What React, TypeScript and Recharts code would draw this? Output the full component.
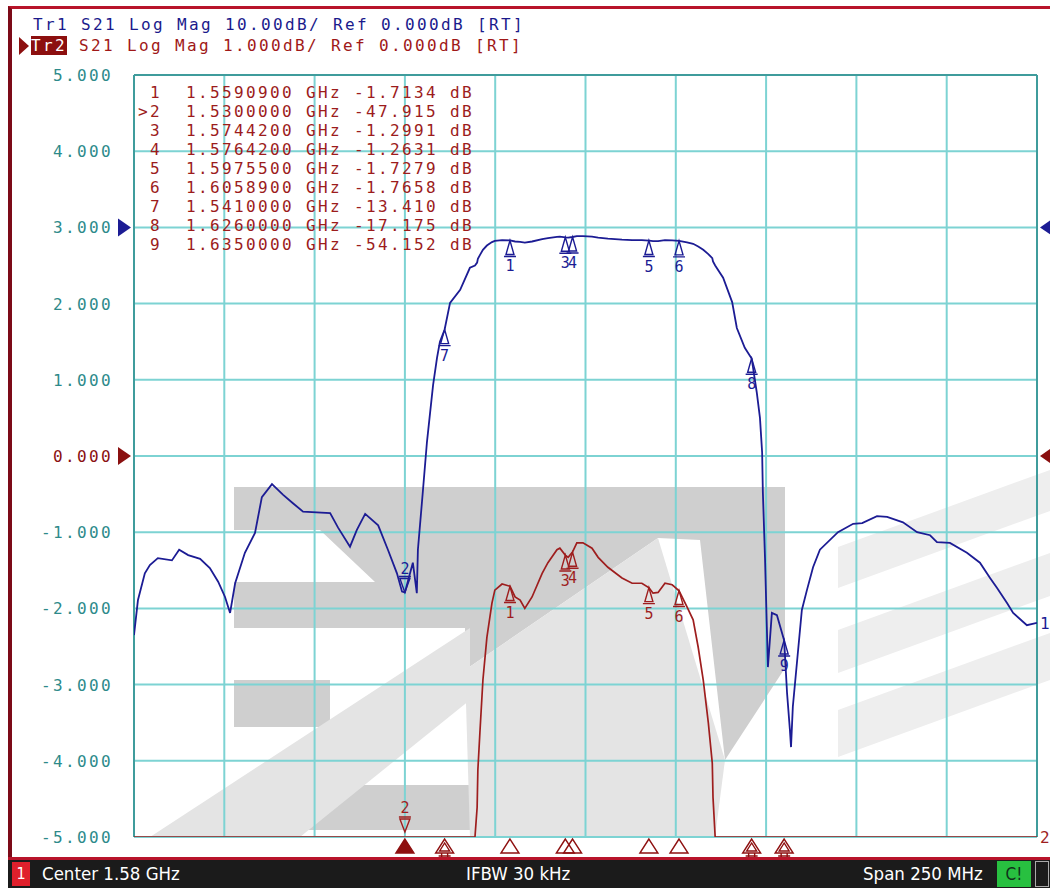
import React from 'react';
import { LineChart, Line, XAxis, YAxis, CartesianGrid, ReferenceDot, ReferenceLine } from 'recharts';

// ---- Data ----
const FREQ_MHZ = [
  1455.0, 1456.1, 1458.0, 1459.4, 1461.6, 1465.5, 1467.5, 1470.0, 1473.3, 1476.0,
  1478.3, 1480.2, 1481.6, 1483.0, 1485.7, 1488.5, 1490.4, 1493.2, 1496.3, 1499.0,
  1501.8, 1509.3, 1511.5, 1514.8, 1516.7, 1519.0, 1522.6, 1525.3, 1527.8, 1529.2,
  1530.0, 1530.9, 1532.2, 1533.3, 1533.6, 1535.0, 1536.1, 1537.0, 1537.8, 1538.9,
  1539.7, 1541.0, 1542.5, 1545.3, 1548.0, 1549.4, 1550.0, 1550.2, 1550.8, 1551.6,
  1552.7, 1554.1, 1554.9, 1556.9, 1559.1, 1560.5, 1561.9, 1563.2, 1565.2, 1568.0,
  1569.6, 1572.1, 1572.9, 1574.4, 1575.2, 1576.4, 1577.6, 1579.3, 1581.8, 1583.5,
  1586.2, 1590.1, 1592.9, 1595.6, 1597.6, 1598.7, 1600.1, 1602.0, 1604.0, 1605.9,
  1608.1, 1609.8, 1611.2, 1612.6, 1614.0, 1615.1, 1615.3, 1615.9, 1618.1, 1620.6,
  1621.9, 1624.1, 1626.0, 1627.4, 1628.3, 1628.9, 1629.1, 1629.7, 1630.2, 1630.5,
  1631.6, 1633.0, 1635.0, 1635.8, 1636.6, 1636.9, 1637.4, 1638.6, 1639.9, 1641.3,
  1643.0, 1644.9, 1649.9, 1654.1, 1656.6, 1660.7, 1663.5, 1667.9, 1671.8, 1675.4,
  1677.3, 1680.9, 1685.6, 1689.2, 1692.0, 1693.9, 1696.7, 1698.4, 1702.2, 1705.0,
];
const S21_DB = [
  -53.5, -48.9, -45.4, -44.3, -43.4, -43.7, -42.3, -43.0, -43.5, -44.7,
  -46.5, -48.5, -50.6, -46.7, -42.7, -40.1, -35.4, -33.7, -35.1, -36.2,
  -37.3, -37.5, -39.4, -41.9, -39.7, -37.6, -39.1, -42.3, -45.4, -47.8,
  -47.9, -46.3, -44.0, -48.0, -42.3, -34.5, -28.2, -24.2, -20.7, -17.1,
  -15.0, -13.4, -9.9, -8.2, -5.3, -5.0, -4.61, -4.12, -3.60, -2.94,
  -2.38, -1.93, -1.76, -1.68, -1.71, -1.85, -1.89, -2.00, -1.85, -1.54,
  -1.40, -1.23, -1.21, -1.30, -1.33, -1.26, -1.14, -1.14, -1.21, -1.33,
  -1.46, -1.60, -1.67, -1.67, -1.73, -1.80, -1.79, -1.67, -1.69, -1.77,
  -1.98, -2.15, -2.51, -2.94, -3.50, -4.03, -4.48, -5.0, -6.6, -9.8,
  -13.2, -15.8, -17.2, -21.6, -25.0, -29.5, -34.7, -43.4, -52.4, -57.7,
  -50.6, -50.9, -54.2, -61.1, -66.0, -68.2, -62.9, -56.8, -50.2, -47.6,
  -44.6, -42.3, -40.0, -38.9, -38.8, -37.9, -38.0, -38.7, -40.0, -40.4,
  -41.3, -41.4, -42.7, -44.0, -46.0, -47.3, -49.3, -50.6, -52.2, -51.9,
];

const Y_TICKS = [5, 4, 3, 2, 1, 0, -1, -2, -3, -4, -5];
const X_TICKS = [1455, 1480, 1505, 1530, 1555, 1580, 1605, 1630, 1655, 1680, 1705];

const MARKER_NUM = [1, 2, 3, 4, 5, 6, 7, 8, 9];
const MARKER_FREQ_GHZ = [1.55909, 1.53, 1.57442, 1.57642, 1.59755, 1.60589, 1.541, 1.626, 1.635];
const MARKER_DB = [-1.7134, -47.915, -1.2991, -1.2631, -1.7279, -1.7658, -13.41, -17.175, -54.152];
const ACTIVE_MARKER = 2;

// trace scale settings (dB per division, reference position in divisions)
const TR1_SCALE = 10;
const TR1_REF_POS = 3;
const TR2_SCALE = 1;
const TR2_REF_POS = 0;

const HEADER_TR1 = 'Tr1 S21 Log Mag 10.00dB/ Ref 0.000dB [RT]';
const HEADER_TR2_NAME = 'Tr2';
const HEADER_TR2 = ' S21 Log Mag 1.000dB/ Ref 0.000dB [RT]';
const STATUS_CH = '1';
const STATUS_CENTER = 'Center 1.58 GHz';
const STATUS_IFBW = 'IFBW 30 kHz';
const STATUS_SPAN = 'Span 250 MHz';

// ---- Styles ----
const BLUE = '#1c1c94';
const RED = '#9e1e1e';
const GRID = '#7dd3d3';
const BORDER = '#3f9c9c';
const TICK = '#2d8a8a';
const MONO = '"DejaVu Sans Mono", monospace';
const SPACING = '2.37px';

const toTr1 = (db: number) => TR1_REF_POS + db / TR1_SCALE;
const toTr2 = (db: number) => Math.max(-5, Math.min(5, TR2_REF_POS + db / TR2_SCALE));

const data = FREQ_MHZ.map((f, i) => ({ f, tr1: toTr1(S21_DB[i]), tr2: toTr2(S21_DB[i]) }));

const fmtRow = (i: number) => {
  const n = MARKER_NUM[i];
  const pre = (n === ACTIVE_MARKER ? '>' : ' ') + String(n);
  return `${pre}  ${MARKER_FREQ_GHZ[i].toFixed(7)} GHz ${MARKER_DB[i].toPrecision(5)} dB`;
};

const txt = (color: string): React.CSSProperties => ({
  fontFamily: MONO,
  fontSize: 16,
  letterSpacing: SPACING,
  color,
  whiteSpace: 'pre',
  lineHeight: '19px',
});

const markerUp = (color: string, label: string) => (p: any) => {
  const { cx, cy } = p;
  return (
    <g>
      <path d={`M${cx},${cy} L${cx - 4},${cy + 14} L${cx + 4},${cy + 14} Z M${cx - 6},${cy + 16} L${cx + 6},${cy + 16}`} fill="none" stroke={color} strokeWidth={1.4} />
      <text x={cx} y={cy + 31} textAnchor="middle" fill={color} fontFamily={MONO} fontSize={15}>{label}</text>
    </g>
  );
};
const markerDown = (color: string, label: string) => (p: any) => {
  const { cx, cy } = p;
  return (
    <g>
      <path d={`M${cx},${cy} L${cx - 5},${cy - 14} L${cx + 5},${cy - 14} Z M${cx - 6},${cy - 16} L${cx + 6},${cy - 16}`} fill="none" stroke={color} strokeWidth={1.4} />
      <text x={cx} y={cy - 19} textAnchor="middle" fill={color} fontFamily={MONO} fontSize={15}>{label}</text>
    </g>
  );
};
const axisTri = (filled: boolean, stacked: boolean) => (p: any) => {
  const { cx, cy } = p;
  const c = '#8e1010';
  return (
    <g>
      <path d={`M${cx},${cy + 2} L${cx - 9},${cy + 16} L${cx + 9},${cy + 16} Z`} fill={filled ? c : 'none'} stroke={c} strokeWidth={1.4} />
      {stacked && (
        <path d={`M${cx},${cy + 6} L${cx - 5},${cy + 14} L${cx + 5},${cy + 14} Z M${cx - 3},${cy + 16} L${cx - 3},${cy + 20} M${cx + 3},${cy + 16} L${cx + 3},${cy + 20} M${cx - 6},${cy + 19} L${cx + 6},${cy + 19}`} fill="none" stroke={c} strokeWidth={1.4} />
      )}
    </g>
  );
};
const leftArrow = (color: string) => (p: any) => {
  const { cx, cy } = p;
  return <path d={`M${cx - 16},${cy - 9} L${cx - 3},${cy} L${cx - 16},${cy + 9} Z`} fill={color} />;
};
const rightArrow = (color: string) => (p: any) => {
  const { cx, cy } = p;
  return <path d={`M${cx + 16},${cy - 9} L${cx + 3},${cy} L${cx + 16},${cy + 9} Z`} fill={color} />;
};
const endLabel = (color: string, label: string) => (p: any) => {
  const { cx, cy } = p;
  return <text x={cx + 3} y={cy + 6} fill={color} fontFamily={MONO} fontSize={16}>{label}</text>;
};
const offscaleLabel = (label: string) => (p: any) => {
  const { cx, cy } = p;
  return (
    <g>
      <text x={cx} y={cy - 24} textAnchor="middle" fill={RED} fontFamily={MONO} fontSize={15}>{label}</text>
      <path d={`M${cx - 6},${cy - 20} L${cx + 6},${cy - 20} M${cx - 5},${cy - 18} L${cx + 5},${cy - 18} L${cx},${cy - 5} Z`} fill="none" stroke={RED} strokeWidth={1.4} />
    </g>
  );
};

const YTick = (p: any) => {
  const v = p.payload.value;
  return (
    <text x={p.x} y={p.y + 6} textAnchor="end" fill={v === TR2_REF_POS ? '#8a1010' : TICK} fontFamily={MONO} fontSize={16} letterSpacing={SPACING}>
      {v.toFixed(3)}
    </text>
  );
};

const Watermark = () => (
  <svg width={1050} height={888} style={{ position: 'absolute', left: 0, top: 0 }}>
    <g fill="#cfcfcf">
      <rect x={234} y={487} width={551} height={43} />
      <polygon points="375,582 234,582 234,628 465,628 465,670 658,538 700,540 725,760 785,668 785,530 320,530" />
      <rect x={234} y={680} width={96} height={47} />
      <rect x={234} y={785} width={236} height={45} />
    </g>
    <g fill="#e4e4e4">
      <polygon points="465,670 658,538 725,760 715,837 470,837" />
      <polygon points="150,837 470,628 470,700 300,837" />
    </g>
    <g fill="#eeeeee">
      <polygon points="838,547 1050,470 1050,511 838,588" />
      <polygon points="838,630 1050,553 1050,596 838,673" />
      <polygon points="838,710 1050,633 1050,680 838,757" />
    </g>
  </svg>
);

export default function App() {
  return (
    <div style={{ position: 'absolute', left: 0, top: 0, width: 1050, height: 888, background: '#ffffff', overflow: 'hidden' }}>
      {/* frame */}
      <div style={{ position: 'absolute', left: 8, top: 6, width: 1042, height: 852, borderTop: '3px solid #b8142a', borderLeft: '4px solid #7c0a18', boxSizing: 'border-box' }} />
      <Watermark />
      {/* header */}
      <div style={{ position: 'absolute', left: 33, top: 15, ...txt('#1a1a8c') }}>{HEADER_TR1}</div>
      <div style={{ position: 'absolute', left: 19, top: 37, width: 0, height: 0, borderTop: '9px solid transparent', borderBottom: '9px solid transparent', borderLeft: '10px solid #8c0f0f' }} />
      <div style={{ position: 'absolute', left: 31, top: 36, ...txt('#a01818') }}>
        <span style={{ background: '#8c0f0f', color: '#ffffff' }}>{HEADER_TR2_NAME}</span>
        {HEADER_TR2}
      </div>

      <div style={{ position: 'absolute', left: 0, top: 0 }}>
        <LineChart width={1050} height={888} data={data} margin={{ top: 75, right: 13, bottom: 51, left: 0 }}>
          <CartesianGrid stroke={GRID} strokeWidth={2} horizontalValues={Y_TICKS} verticalValues={X_TICKS} />
          <XAxis dataKey="f" type="number" domain={[1455, 1705]} ticks={X_TICKS} hide allowDataOverflow />
          <YAxis type="number" domain={[-5, 5]} ticks={Y_TICKS} width={134} axisLine={false} tickLine={false} tickMargin={15} tick={<YTick />} interval={0} allowDataOverflow />
          <ReferenceLine x={1455} stroke={BORDER} strokeWidth={2} />
          <ReferenceLine x={1705} stroke={BORDER} strokeWidth={2} />
          <ReferenceLine y={5} stroke={BORDER} strokeWidth={2} />
          <Line dataKey="tr1" stroke={BLUE} strokeWidth={1.8} dot={false} isAnimationActive={false} type="linear" />
          <Line dataKey="tr2" stroke={RED} strokeWidth={1.7} dot={false} isAnimationActive={false} type="linear" />

          {/* reference position arrows */}
          <ReferenceDot x={1455} y={TR1_REF_POS} r={0} shape={leftArrow(BLUE)} />
          <ReferenceDot x={1455} y={TR2_REF_POS} r={0} shape={leftArrow('#8a1010')} />
          <ReferenceDot x={1705} y={TR1_REF_POS} r={0} shape={rightArrow(BLUE)} />
          <ReferenceDot x={1705} y={TR2_REF_POS} r={0} shape={rightArrow('#8a1010')} />

          {/* trace end labels */}
          <ReferenceDot x={FREQ_MHZ[FREQ_MHZ.length - 1]} y={toTr1(S21_DB[S21_DB.length - 1])} r={0} shape={endLabel(BLUE, '1')} />
          <ReferenceDot x={FREQ_MHZ[FREQ_MHZ.length - 1]} y={toTr2(S21_DB[S21_DB.length - 1])} r={0} shape={endLabel(RED, '2')} />

          {/* Tr1 markers */}
          {MARKER_NUM.map((n, i) => (
            <ReferenceDot key={'b' + n} x={MARKER_FREQ_GHZ[i] * 1000} y={toTr1(MARKER_DB[i])} r={0}
              shape={n === ACTIVE_MARKER ? markerDown(BLUE, String(n)) : markerUp(BLUE, String(n))} />
          ))}
          {/* Tr2 markers on trace */}
          {MARKER_NUM.map((n, i) => {
            const v = TR2_REF_POS + MARKER_DB[i] / TR2_SCALE;
            if (v < -5) {
              return n === ACTIVE_MARKER ? (
                <ReferenceDot key={'r' + n} x={MARKER_FREQ_GHZ[i] * 1000} y={-5} r={0} shape={offscaleLabel(String(n))} />
              ) : null;
            }
            return <ReferenceDot key={'r' + n} x={MARKER_FREQ_GHZ[i] * 1000} y={v} r={0} shape={markerUp(RED, String(n))} />;
          })}
          {/* stimulus-axis marker triangles */}
          {MARKER_NUM.map((n, i) => (
            <ReferenceDot key={'a' + n} x={MARKER_FREQ_GHZ[i] * 1000} y={-5} r={0} ifOverflow="visible"
              shape={axisTri(n === ACTIVE_MARKER, MARKER_DB[i] / TR2_SCALE < -5 && n !== ACTIVE_MARKER)} />
          ))}
        </LineChart>
      </div>

      {/* marker table */}
      <div style={{ position: 'absolute', left: 138, top: 83, ...txt('#9c1c1c') }}>
        {MARKER_NUM.map((_, i) => (
          <div key={i}>{fmtRow(i)}</div>
        ))}
      </div>

      {/* status bar */}
      <div style={{ position: 'absolute', left: 8, top: 857, width: 1042, height: 3, background: '#b8142a' }} />
      <div style={{ position: 'absolute', left: 8, top: 860, width: 1042, height: 28, background: '#1b1b1b', fontFamily: '"DejaVu Sans Condensed", "DejaVu Sans", sans-serif', fontSize: 18.5, color: '#ffffff' }}>
        <div style={{ position: 'absolute', left: 4, top: 2, width: 18, height: 24, background: '#e0202c', textAlign: 'center', lineHeight: '24px', fontSize: 16 }}>{STATUS_CH}</div>
        <div style={{ position: 'absolute', left: 34, top: 0, lineHeight: '28px' }}>{STATUS_CENTER}</div>
        <div style={{ position: 'absolute', left: 458, top: 0, lineHeight: '28px' }}>{STATUS_IFBW}</div>
        <div style={{ position: 'absolute', left: 855, top: 0, lineHeight: '28px' }}>{STATUS_SPAN}</div>
        <div style={{ position: 'absolute', left: 989, top: 1, width: 34, height: 26, background: '#28c040', color: '#10301a', textAlign: 'center', lineHeight: '26px', fontSize: 17 }}>C!</div>
        <div style={{ position: 'absolute', left: 1027, top: 1, width: 14, height: 26, border: '1px solid #aaaaaa', boxSizing: 'border-box' }} />
      </div>
    </div>
  );
}
